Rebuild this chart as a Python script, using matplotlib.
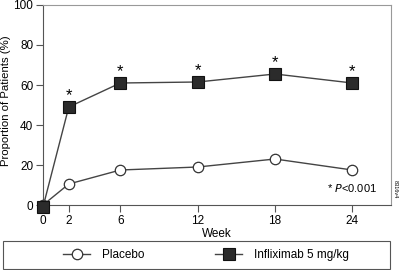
import matplotlib
matplotlib.use("Agg")
import matplotlib.pyplot as plt
from matplotlib.patches import Rectangle

plt.rcParams['font.family'] = ['Liberation Sans', 'DejaVu Sans']

weeks = [0, 2, 6, 12, 18, 24]
placebo = [0, 10.5, 17.5, 19, 23, 17.5]
infliximab = [-1, 49, 61, 61.5, 65.5, 61]
signif = [False, True, True, True, True, True]

fig = plt.figure(figsize=(4, 2.7), dpi=100)
ax = fig.add_axes([0.1075, 0.2407, 0.87, 0.7408])

line_color = '#444444'
l1, = ax.plot(weeks, placebo, color=line_color, lw=1, marker='o', ms=7.5,
              mfc='white', mec='#333333', mew=0.9, clip_on=False, zorder=3,
              label='Placebo')
l2, = ax.plot(weeks, infliximab, color=line_color, lw=1, marker='s', ms=8.5,
              mfc='#2b2b2b', mec='#111111', mew=0.8, clip_on=False, zorder=4,
              label='Infliximab 5 mg/kg')

for w, v, s in zip(weeks, infliximab, signif):
    if s:
        ax.text(w, v + 5.5, '*', ha='center', va='center', fontsize=12)

ax.set_xlim(0, 27)
ax.set_ylim(0, 100)
ax.set_xticks(weeks)
ax.set_yticks([0, 20, 40, 60, 80, 100])
ax.tick_params(labelsize=8.5, length=5, width=0.8, color='#555555', pad=2)
for sp in ['left', 'bottom']:
    ax.spines[sp].set_color('#555555')
for sp in ['top', 'right']:
    ax.spines[sp].set_color('#999999')
ax.set_xlabel('Week', fontsize=8.5, labelpad=1)
ax.set_ylabel('Proportion of Patients (%)', fontsize=8.2)
ax.yaxis.set_label_coords(-0.092, 0.52)

ax.text(24, 6.5, r'* $\it{P}$<0.001', fontsize=8, ha='center')
fig.text(0.988, 0.3, '8316v4', rotation=270, fontsize=4, ha='center', va='center')

fig.patches.append(Rectangle((3 / 400, 1 / 270), 387 / 400, 28 / 270,
                             transform=fig.transFigure, fill=False,
                             edgecolor='#555555', lw=0.8))
leg = fig.legend(handles=[l1, l2], loc='center left', ncol=2,
                 bbox_to_anchor=(63 / 400, 15 / 270), fontsize=8.5,
                 frameon=False, handlelength=2.3, handletextpad=1.0,
                 columnspacing=6.0, borderpad=0, borderaxespad=0)

fig.savefig('out.png', dpi=100)
